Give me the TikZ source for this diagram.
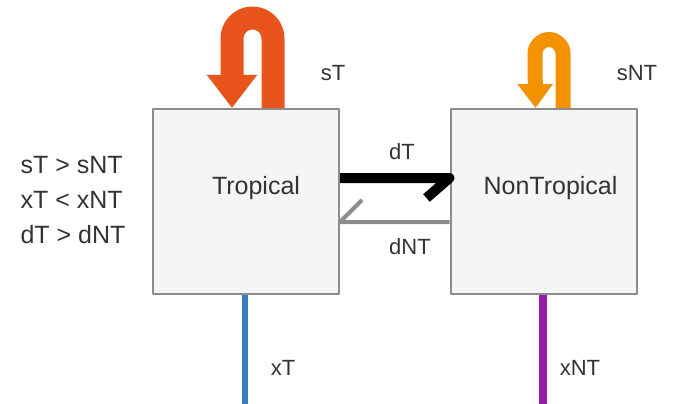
\documentclass[tikz,border=0pt]{standalone}
\usepackage{fontspec}
\setmainfont{Liberation Sans}
\usetikzlibrary{arrows.meta}
\definecolor{sTred}{RGB}{232,84,28}
\definecolor{sNTorange}{RGB}{243,146,0}
\definecolor{xTblue}{RGB}{55,126,190}
\definecolor{xNTpurple}{RGB}{150,30,175}
\definecolor{boxgray}{RGB}{245,245,245}

\begin{document}
\begin{tikzpicture}[line join=round,x=1pt,y=1pt,
  box/.style={draw=black!45,line width=2,fill=boxgray,minimum width=186,minimum height=185},
  big/.style={font=\fontsize{25}{35}\selectfont,text=black!80},
  small/.style={font=\fontsize{22}{26}\selectfont,text=black!80},
  uturn/.style={line cap=butt}]
\useasboundingbox (0,0) rectangle (673,-404);
\node [box] (trop) at (246,-201.5) {};
\node [box] (nontrop) at (543.5,-201.5) {};
\node [big] (troptext) at ([shift={(10,13)}]trop.center) {Tropical};
\node [big] (nontroptext) at ([shift={(7,13)}]nontrop.center) {NonTropical};
% self loops
\draw [uturn,color=sTred,line width=23,-{Triangle[length=33pt,width=48pt]}]
  ([xshift=27]trop.north) -- ++(0,69.5) arc (0:180:20.5) -- ([xshift=-14]trop.north);
\draw [uturn,color=sNTorange,line width=15,-{Triangle[length=24pt,width=34pt]}]
  ([xshift=19.5]nontrop.north) -- ++(0,54.5) arc (0:180:14) -- ([xshift=-8]nontrop.north);
\node [small] (sT) at (333,-73) {sT};
\node [small] (sNT) at (637,-73) {sNT};
% exchange between the boxes
\draw [line width=10,color=black] ([yshift=23.5]trop.east) -- ([yshift=23.5]nontrop.west) -- ++(-23,-20);
\draw [line width=4,color=black!45] ([yshift=-20.5]nontrop.west) -- ([yshift=-20.5]trop.east) -- ++(22,22);
\node [small] (dT) at (402,-152) {dT};
\node [small] (dNT) at (410,-247) {dNT};
% outflows
\coordinate (xTend) at (245,-404);
\coordinate (xNTend) at (543,-404);
\draw [line width=6,color=xTblue] ([xshift=-1]trop.south) -- (xTend);
\draw [line width=8,color=xNTpurple] ([xshift=-0.5]nontrop.south) -- (xNTend);
\node [small] (xT) at (283,-368) {xT};
\node [small] (xNT) at (580,-368) {xNT};
\node [big,align=left] (rules) at (73,-200) {sT > sNT\\xT < xNT\\dT > dNT};
\end{tikzpicture}
\end{document}
